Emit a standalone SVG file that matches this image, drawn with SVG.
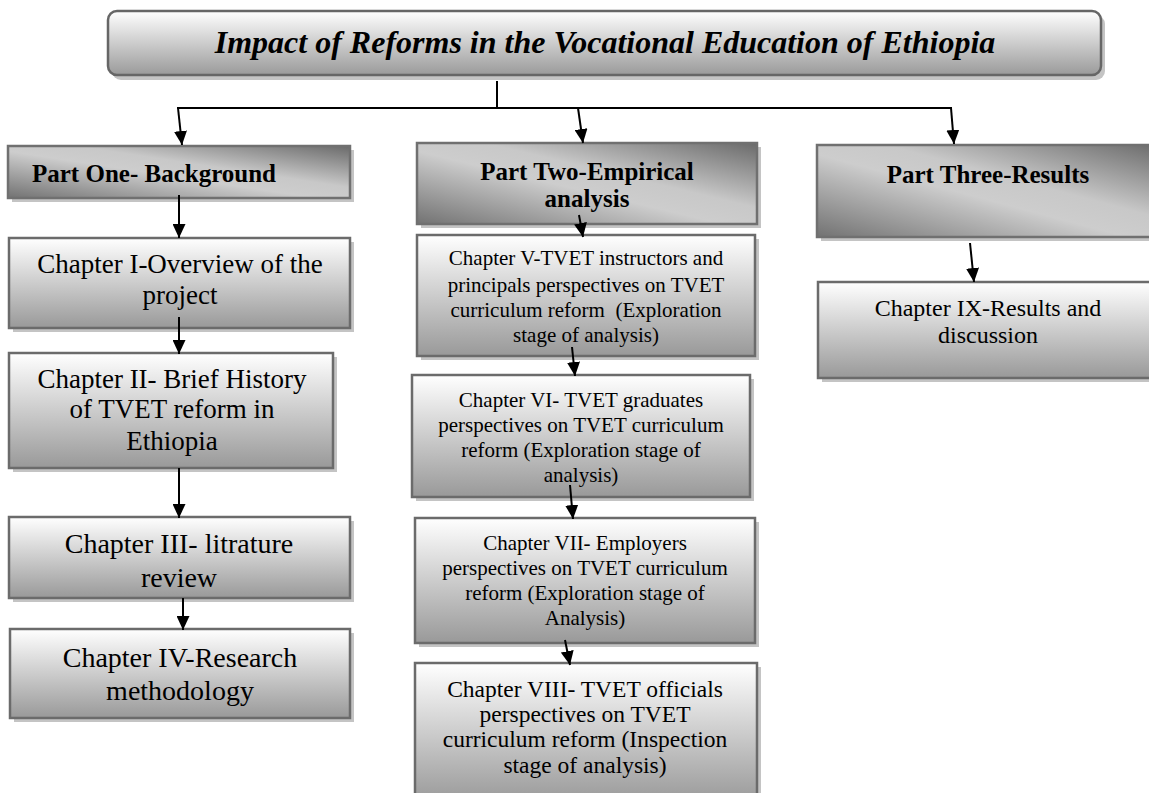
<svg xmlns="http://www.w3.org/2000/svg" width="1149" height="793" viewBox="0 0 1149 793">
  <defs>
    <style>
      .shadow { fill: #c4c4c4; }
      .chap { fill: url(#gChap); stroke: #6b6b6b; stroke-width: 2.5; }
      .part { fill: url(#gPart); stroke: #707070; stroke-width: 2.5; }
      .title { fill: url(#gTitle); stroke: #666666; stroke-width: 2.5; }
      .conn { stroke: #000; stroke-width: 2; fill: none; }
      .arrow { stroke: #000; stroke-width: 2; fill: none; marker-end: url(#ah); }
      text { fill: #000; font-family: "Liberation Serif", "Times New Roman", serif; text-anchor: middle; }
      .t-title { font-size: 32px; font-weight: bold; font-style: italic; }
      .t-part { font-size: 25px; font-weight: bold; }
      .t-c27 { font-size: 27px; }
      .t-c28 { font-size: 28px; }
      .t-c21 { font-size: 21px; white-space: pre; }
      .t-c23 { font-size: 23.5px; }
      .t-c24 { font-size: 24px; }
    </style>
    <linearGradient id="gChap" x1="0" y1="0" x2="0" y2="1">
      <stop offset="0" stop-color="#ffffff"/>
      <stop offset="1" stop-color="#999999"/>
    </linearGradient>
    <linearGradient id="gTitle" x1="0" y1="0" x2="0" y2="1">
      <stop offset="0" stop-color="#ffffff"/>
      <stop offset="1" stop-color="#9a9a9a"/>
    </linearGradient>
    <linearGradient id="gPart" x1="0" y1="1" x2="1" y2="0">
      <stop offset="0" stop-color="#727272"/>
      <stop offset="0.45" stop-color="#cdcdcd"/>
      <stop offset="0.6" stop-color="#c8c8c8"/>
      <stop offset="1" stop-color="#6a6a6a"/>
    </linearGradient>
    <marker id="ah" markerWidth="14" markerHeight="13" refX="14" refY="6.5" orient="auto" markerUnits="userSpaceOnUse">
      <path d="M0,0 L14,6.5 L0,13 z" fill="#000"/>
    </marker>
  </defs>

  <!-- Title -->
  <g id="title">
    <rect class="shadow" x="112" y="15" width="993" height="65" rx="9"/>
    <rect class="title" x="108" y="11" width="993" height="64" rx="9"/>
    <text class="t-title" x="605" y="53">Impact of Reforms in the Vocational Education of Ethiopia</text>
  </g>

  <!-- Part headers -->
  <g id="part-one">
    <rect class="shadow" x="12" y="150" width="342" height="52"/>
    <rect class="part" x="8" y="146" width="342" height="52"/>
    <text class="t-part" x="32" y="182" style="text-anchor:start">Part One- Background</text>
  </g>
  <g id="part-two">
    <rect class="shadow" x="421" y="147" width="340" height="81"/>
    <rect class="part" x="417" y="143" width="340" height="81"/>
    <text class="t-part" x="587" y="180">Part Two-Empirical</text>
    <text class="t-part" x="587" y="207">analysis</text>
  </g>
  <g id="part-three">
    <rect class="shadow" x="821" y="149" width="345" height="92"/>
    <rect class="part" x="817" y="145" width="345" height="92"/>
    <text class="t-part" x="988" y="183">Part Three-Results</text>
  </g>

  <!-- Part One chapters -->
  <g id="ch1">
    <rect class="shadow" x="13" y="242" width="341" height="90"/>
    <rect class="chap" x="9" y="238" width="341" height="90"/>
    <text class="t-c27" x="180" y="273">Chapter I-Overview of the</text>
    <text class="t-c27" x="180" y="304">project</text>
  </g>
  <g id="ch2">
    <rect class="shadow" x="13" y="357" width="324" height="115"/>
    <rect class="chap" x="9" y="353" width="324" height="115"/>
    <text class="t-c27" x="172" y="388">Chapter II- Brief History</text>
    <text class="t-c27" x="172" y="418">of TVET reform in</text>
    <text class="t-c27" x="172" y="450">Ethiopia</text>
  </g>
  <g id="ch3">
    <rect class="shadow" x="13" y="521" width="341" height="81"/>
    <rect class="chap" x="9" y="517" width="341" height="81"/>
    <text class="t-c28" x="179" y="553">Chapter III- litrature</text>
    <text class="t-c28" x="179" y="587">review</text>
  </g>
  <g id="ch4">
    <rect class="shadow" x="14" y="633" width="340" height="89"/>
    <rect class="chap" x="10" y="629" width="340" height="89"/>
    <text class="t-c28" x="180" y="667">Chapter IV-Research</text>
    <text class="t-c28" x="180" y="700">methodology</text>
  </g>

  <!-- Part Two chapters -->
  <g id="ch5">
    <rect class="shadow" x="421" y="239" width="338" height="121"/>
    <rect class="chap" x="417" y="235" width="338" height="121"/>
    <text class="t-c21" x="586" y="265">Chapter V-TVET instructors and</text>
    <text class="t-c21" x="586" y="292">principals perspectives on TVET</text>
    <text class="t-c21" x="586" y="317">curriculum reform  (Exploration</text>
    <text class="t-c21" x="586" y="342">stage of analysis)</text>
  </g>
  <g id="ch6">
    <rect class="shadow" x="416" y="379" width="338" height="122"/>
    <rect class="chap" x="412" y="375" width="338" height="122"/>
    <text class="t-c21" x="581" y="407">Chapter VI- TVET graduates</text>
    <text class="t-c21" x="581" y="432">perspectives on TVET curriculum</text>
    <text class="t-c21" x="581" y="457">reform (Exploration stage of</text>
    <text class="t-c21" x="581" y="482">analysis)</text>
  </g>
  <g id="ch7">
    <rect class="shadow" x="419" y="522" width="340" height="125"/>
    <rect class="chap" x="415" y="518" width="340" height="125"/>
    <text class="t-c21" x="585" y="550">Chapter VII- Employers</text>
    <text class="t-c21" x="585" y="575">perspectives on TVET curriculum</text>
    <text class="t-c21" x="585" y="600">reform (Exploration stage of</text>
    <text class="t-c21" x="585" y="625">Analysis)</text>
  </g>
  <g id="ch8">
    <rect class="shadow" x="419" y="667" width="342" height="140"/>
    <rect class="chap" x="415" y="663" width="342" height="140"/>
    <text class="t-c23" x="585" y="697">Chapter VIII- TVET officials</text>
    <text class="t-c23" x="585" y="722">perspectives on TVET</text>
    <text class="t-c23" x="585" y="747">curriculum reform (Inspection</text>
    <text class="t-c23" x="585" y="773">stage of analysis)</text>
  </g>

  <!-- Part Three chapter -->
  <g id="ch9">
    <rect class="shadow" x="822" y="286" width="345" height="96"/>
    <rect class="chap" x="818" y="282" width="345" height="96"/>
    <text class="t-c24" x="988" y="316">Chapter IX-Results and</text>
    <text class="t-c24" x="988" y="343">discussion</text>
  </g>

  <!-- Connectors -->
  <g id="connectors">
    <line class="conn" x1="497" y1="81" x2="497" y2="108"/>
    <line class="conn" x1="177" y1="108" x2="952" y2="108"/>
    <line class="arrow" x1="178" y1="108" x2="182" y2="145"/>
    <line class="arrow" x1="578" y1="108" x2="583" y2="143"/>
    <line class="arrow" x1="951" y1="108" x2="954" y2="144"/>
    <line class="arrow" x1="179" y1="195" x2="179" y2="238"/>
    <line class="arrow" x1="179" y1="317" x2="179" y2="354"/>
    <line class="arrow" x1="179" y1="468" x2="179" y2="518"/>
    <line class="arrow" x1="183" y1="598" x2="183" y2="630"/>
    <line class="arrow" x1="579" y1="215" x2="583" y2="237"/>
    <line class="arrow" x1="572" y1="347" x2="575" y2="376"/>
    <line class="arrow" x1="570" y1="485" x2="573" y2="519"/>
    <line class="arrow" x1="565" y1="640" x2="570" y2="665"/>
    <line class="arrow" x1="970" y1="243" x2="974" y2="282"/>
  </g>
</svg>
